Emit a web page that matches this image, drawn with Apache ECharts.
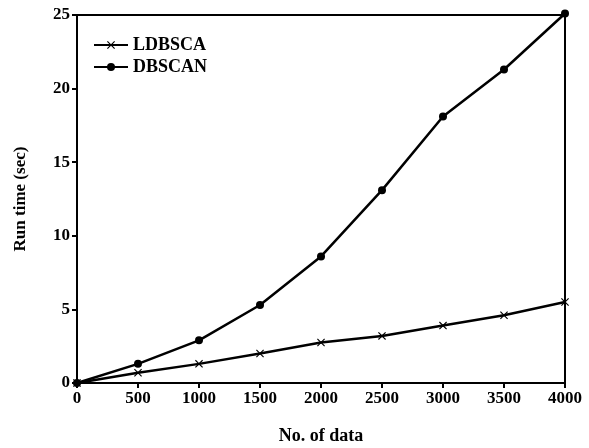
<!DOCTYPE html>
<html><head><meta charset="utf-8">
<script src="https://cdn.jsdelivr.net/npm/echarts@6/dist/echarts.min.js"></script>
<style>html,body{margin:0;padding:0;background:#fff}#c{width:589px;height:448px}</style>
</head><body><div id="c"></div>
<script>
const xValues = [0, 500, 1000, 1500, 2000, 2500, 3000, 3500, 4000];
const ldbsca = [0, 0.7, 1.3, 2.0, 2.75, 3.2, 3.9, 4.6, 5.5];
const dbscan = [0, 1.3, 2.9, 5.3, 8.6, 13.1, 18.1, 21.3, 25.1];
const seriesNames = ['LDBSCA', 'DBSCAN'];
const xTitle = 'No. of data';
const yTitle = 'Run time (sec)';

const font = 'Liberation Serif';
const xMark = 'path://M1,0 L5,4 L9,0 L10,1 L6,5 L10,9 L9,10 L5,6 L1,10 L0,9 L4,5 L0,1 Z';
const chart = echarts.init(document.getElementById('c'));
chart.setOption({
  animation: false,
  grid: {left: 77, right: 24, top: 15, bottom: 65, show: true, borderColor: '#000', borderWidth: 2,
    containLabel: false, outerBoundsMode: 'none'},
  legend: {
    left: 88, top: 31, orient: 'vertical', itemGap: 4, itemWidth: 34, itemHeight: 10,
    textStyle: {fontFamily: font, fontSize: 18, fontWeight: 'bold', color: '#000'},
    data: seriesNames
  },
  xAxis: {
    type: 'value', min: 0, max: 4000, interval: 500,
    name: xTitle, nameLocation: 'middle', nameGap: 44,
    nameTextStyle: {fontFamily: font, fontSize: 18, fontWeight: 'bold', color: '#000'},
    axisLine: {lineStyle: {color: '#000', width: 2}},
    axisTick: {show: true, length: 5, lineStyle: {color: '#000', width: 2}},
    axisLabel: {fontFamily: font, fontSize: 17, fontWeight: 'bold', color: '#000', margin: 7,
      formatter: v => String(v)},
    splitLine: {show: false}
  },
  yAxis: {
    type: 'value', min: 0, max: 25, interval: 5,
    name: yTitle, nameLocation: 'middle', nameGap: 48,
    nameTextStyle: {fontFamily: font, fontSize: 17, fontWeight: 'bold', color: '#000'},
    axisLine: {show: true, lineStyle: {color: '#000', width: 2}},
    axisTick: {show: true, length: 5, lineStyle: {color: '#000', width: 2}},
    axisLabel: {fontFamily: font, fontSize: 17, fontWeight: 'bold', color: '#000', margin: 7},
    splitLine: {show: false}
  },
  series: [
    {
      name: seriesNames[0], type: 'line', data: xValues.map((x, i) => [x, ldbsca[i]]),
      symbol: xMark, symbolSize: 8, clip: false,
      lineStyle: {color: '#000', width: 2.5}, itemStyle: {color: '#000'}
    },
    {
      name: seriesNames[1], type: 'line', data: xValues.map((x, i) => [x, dbscan[i]]),
      symbol: 'circle', symbolSize: 8, clip: false,
      lineStyle: {color: '#000', width: 2.5}, itemStyle: {color: '#000'}
    }
  ]
});
</script></body></html>
